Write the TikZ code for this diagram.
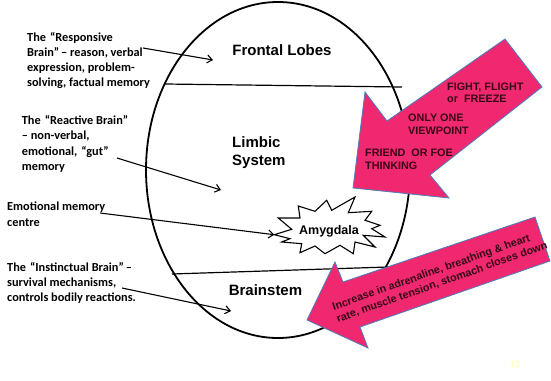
\documentclass[tikz,border=0pt]{standalone}
\usepackage{fontspec}
\setmainfont{Liberation Sans}
\newfontfamily\calfont{Carlito}
\usetikzlibrary{arrows.meta,shapes.geometric}
\definecolor{hotpink}{RGB}{240,40,112}
\definecolor{arrowblue}{RGB}{74,126,187}
\definecolor{warntext}{RGB}{55,8,22}
\definecolor{pagenum}{RGB}{255,255,153}
\newcommand{\openq}{\hspace{4pt}“}
\newcommand{\closeq}{”\hspace{2pt}}
\begin{document}
\begin{tikzpicture}[x=1pt,y=-1pt,
  region/.style={font=\fontsize{15}{18}\selectfont\bfseries, inner sep=0},
  note/.style={font=\calfont\bfseries\fontsize{12.3}{15.2}\selectfont, align=left, anchor=north west, inner sep=0},
  ptr/.style={line width=1.1pt, -{Straight Barb[length=5pt,width=8pt]}},
  divider/.style={line width=1.2pt},
  bigarrow/.style={fill=hotpink, draw=arrowblue, line width=0.8pt, line join=miter},
  warn/.style={font=\bfseries\fontsize{10.8}{12.8}\selectfont, text=warntext, align=left, inner sep=0},
  burst/.style={draw, fill=white, line width=1.1pt, line join=miter}]
\useasboundingbox (0,0) rectangle (551,380);

% brain outline
\node[draw, ellipse, line width=1.8pt, minimum width=264pt, minimum height=336pt, inner sep=0] (brain) at (278,170) {};

% dividing lines
\coordinate (d1l) at (165,84);
\coordinate (d1r) at (402,87);
\coordinate (d2l) at (172,274);
\coordinate (d2r) at (388,267);
\draw[divider] (d1l) -- (d1r);
\draw[divider] (d2l) -- (d2r);

% pink arrows
\draw[bigarrow] (505,39) -- (542,87) -- (430,175) -- (449,198) -- (353,188) -- (365,92) -- (387,121) -- cycle;
\draw[bigarrow] (535,217) -- (550,261) -- (360,327) -- (368,348) -- (307,320) -- (335,262) -- (343,282) -- cycle;

% region labels
\node[region] (frontal) at (282,50.5) {Frontal Lobes};
\node[region, align=left, anchor=north west] (limbic) at (232,136) {Limbic\\System};
\node[region] (brainstem) at (265.5,290.3) {Brainstem};

% amygdala starburst
\draw[burst] (274.3,234.7) coordinate (amyL) -- (291.7,229.3) -- (278.3,218) -- (300,218) -- (298.3,206) -- (315,211.3) -- (326.7,200.3) -- (331.7,210.3) -- (355,197) -- (348.3,212.7) -- (371.7,211.3) -- (365,220.3) -- (380,225.3) -- (371.7,228.7) -- (385,237) -- (363.3,235.3) -- (375,247) -- (355,242) -- (353.3,253.7) -- (340,245.3) -- (325,253.7) -- (315,246) -- (300,252.7) -- (301.7,243.7) -- (281.7,242) -- (290,238.7) -- cycle;
\node[font=\fontsize{12.5}{15}\selectfont\bfseries, anchor=base, inner sep=0] (amy) at (329,234.3) {Amygdala};

% left notes
\node[note] (responsive) at (27,32) {The\openq Responsive\\Brain\closeq – reason, verbal\\expression, problem-\\solving, factual memory};
\node[note] (reactive) at (21.7,115.5) {The\openq Reactive Brain\closeq\\– non-verbal,\\emotional,\openq gut\closeq\\memory};
\node[note] (emomem) at (7,202) {Emotional memory\\centre};
\node[note] (instinct) at (7,262) {The\openq Instinctual Brain\closeq –\\survival mechanisms,\\controls bodily reactions.};

% pointers
\coordinate (p1s) at (143,48);  \coordinate (p1e) at (213,60);
\coordinate (p2s) at (117,158); \coordinate (p2e) at (221,190);
\coordinate (p3s) at (100,213);
\coordinate (p4s) at (122,288); \coordinate (p4e) at (231,311);
\draw[ptr] (p1s) -- (p1e);
\draw[ptr] (p2s) -- (p2e);
\draw[ptr] (p3s) -- (amyL);
\draw[ptr] (p4s) -- (p4e);

% arrow texts
\node[warn, anchor=north west] (fight) at (447,82.3) {FIGHT, FLIGHT\\or\ \ FREEZE};
\node[warn, anchor=north west] (onlyone) at (408,114) {ONLY ONE\\VIEWPOINT};
\node[warn, anchor=north west] (friend) at (365,149) {FRIEND\ \ OR FOE\\THINKING};
\node[warn, rotate=19.5] (increase) at (440,276.5) {Increase in adrenaline, breathing \& heart\\rate, muscle tension, stomach closes down};

% page number
\node[font=\fontsize{9}{10}\selectfont, text=pagenum, inner sep=0] (page) at (515,364) {12};
\end{tikzpicture}
\end{document}
